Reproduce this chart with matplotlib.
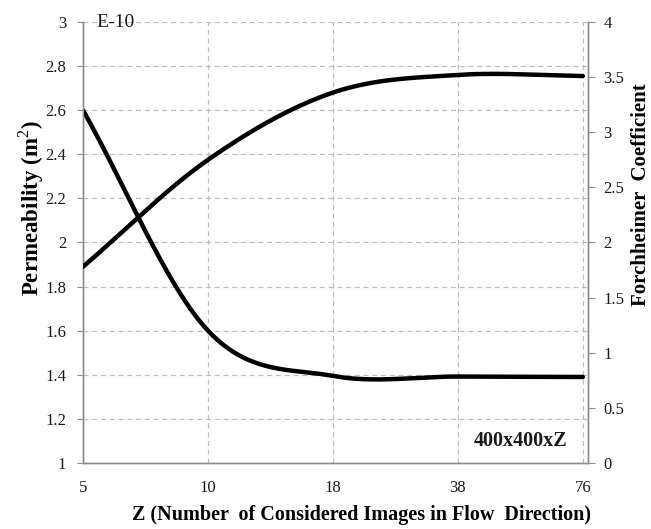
import numpy as np
import matplotlib
matplotlib.use("Agg")
import matplotlib.pyplot as plt

# ---- data ----
z_labels = ["5", "10", "18", "38", "76"]
permeability = [2.60, 1.60, 1.395, 1.392, 1.39]      # left axis (E-10 m^2)
forchheimer = [1.78, 2.75, 3.36, 3.52, 3.51]         # right axis
left_ticks = [1, 1.2, 1.4, 1.6, 1.8, 2, 2.2, 2.4, 2.6, 2.8, 3]
right_ticks = [0, 0.5, 1, 1.5, 2, 2.5, 3, 3.5, 4]


def smooth(y, n=60):
    """Excel-like smoothed line (cubic Hermite / Catmull-Rom) through the points."""
    y = np.asarray(y, float)
    x = np.arange(len(y), dtype=float)
    m = np.empty_like(y)
    m[1:-1] = (y[2:] - y[:-2]) / 2
    m[0] = y[1] - y[0]
    m[-1] = y[-1] - y[-2]
    xs, ys = [], []
    for i in range(len(y) - 1):
        t = np.linspace(0, 1, n, endpoint=(i == len(y) - 2))
        h00 = 2 * t**3 - 3 * t**2 + 1
        h10 = t**3 - 2 * t**2 + t
        h01 = -2 * t**3 + 3 * t**2
        h11 = t**3 - t**2
        xs.append(x[i] + t)
        ys.append(h00 * y[i] + h10 * m[i] + h01 * y[i + 1] + h11 * m[i + 1])
    return np.concatenate(xs), np.concatenate(ys)


serif = ["Liberation Serif", "DejaVu Serif"]
plt.rcParams["font.family"] = serif
plt.rcParams["mathtext.fontset"] = "custom"
plt.rcParams["mathtext.rm"] = "Liberation Serif"
plt.rcParams["mathtext.bf"] = "Liberation Serif:bold"

fig = plt.figure(figsize=(6.51, 5.29), dpi=100)
ax = fig.add_axes([0.1275, 0.1248, 0.7755, 0.8336])
ax2 = ax.twinx()

xs, ys = smooth(permeability)
ax.plot(xs, ys, color="black", lw=3.2, solid_capstyle="round", zorder=5)
xs2, ys2 = smooth(forchheimer)
ax2.plot(xs2, ys2, color="black", lw=3.2, solid_capstyle="round", zorder=5)

ax.set_xlim(0, 4.04)
ax.set_ylim(1, 3)
ax2.set_ylim(0, 4)

ax.set_xticks(range(len(z_labels)))
ax.set_xticklabels(z_labels)
ax.set_yticks(left_ticks)
ax.set_yticklabels([f"{v:g}" for v in left_ticks])
ax2.set_yticks(right_ticks)
ax2.set_yticklabels([f"{v:g}" for v in right_ticks])

# grid
grid_kw = dict(color="#bdbdbd", lw=0.9, ls=(0, (4, 3)), zorder=0)
for v in left_ticks[1:]:
    ax.axhline(v, **grid_kw)
for i in range(1, len(z_labels)):
    ax.axvline(i, **grid_kw)

for a in (ax, ax2):
    a.spines["top"].set_visible(False)
    for s in ("left", "right", "bottom"):
        a.spines[s].set_color("#8c8c8c")
        a.spines[s].set_linewidth(1.0)

ax.tick_params(axis="x", length=0, pad=12, labelsize=12, labelcolor="#1a1a1a")
ax.tick_params(axis="y", length=4, color="#8c8c8c", pad=8, labelsize=12, labelcolor="#1a1a1a")
ax2.tick_params(axis="y", length=5, color="#8c8c8c", pad=6, labelsize=12, labelcolor="#1a1a1a")

ax.set_xlabel("Z (Number  of Considered Images in Flow  Direction)",
              fontsize=14.5, fontweight="bold")
ax.xaxis.set_label_coords(0.552, -0.118)
ax.xaxis.label.set_va("center")
ax.set_ylabel("Permeability (m$^{\\mathrm{2}}$)", fontsize=16.5, fontweight="bold")
ax.yaxis.set_label_coords(-0.103, 0.578)
ax.yaxis.label.set_va("center")
ax2.set_ylabel("Forchheimer  Coefficient", fontsize=15, fontweight="bold")
ax2.yaxis.set_label_coords(1.106, 0.608)
ax2.yaxis.label.set_va("center")

ax.text(0.11, 3.0, "E-10", fontsize=14, va="center", ha="left", color="#1a1a1a")
ax.text(3.88, 1.10, "400x400xZ", fontsize=14.5, fontweight="bold", va="center",
        ha="right", color="#1a1a1a")

fig.savefig("out.png", dpi=100)
